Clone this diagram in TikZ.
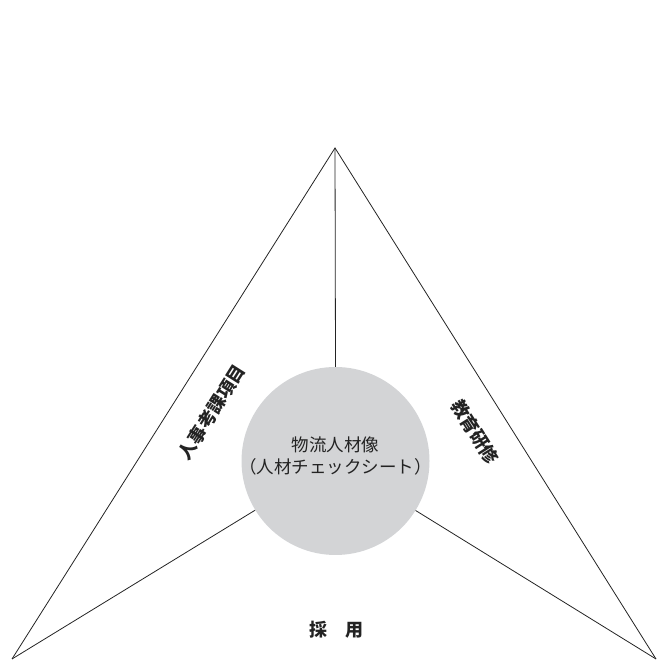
\documentclass[tikz,border=0pt]{standalone}
\usepackage{fontspec}
\newfontfamily\cjk{Noto Sans CJK JP}
\definecolor{circfill}{RGB}{211,212,214}
\definecolor{ink}{RGB}{35,35,35}
\begin{document}
\begin{tikzpicture}[x=1pt,y=1pt,
  edge/.style={draw=ink,line width=0.8pt},
  lab/.style={text=ink,font=\cjk\bfseries\fontsize{18}{20}\selectfont,inner sep=0pt}]
\useasboundingbox (0,0) rectangle (657,660);
\coordinate (apex) at (335,512);
\coordinate (bl) at (12,1);
\coordinate (br) at (656,1);
\node[circle,fill=circfill,minimum size=188pt,inner sep=0pt] (c) at (335.5,199) {};
\node[text=ink,align=center,inner sep=0pt,font=\cjk\fontsize{17.5}{22}\selectfont] (ct) at (335.5,204)
  {物流人材像\\（人材チェックシート）};
\draw[edge] (bl) -- (apex) -- (br);
\draw[edge] (apex) -- (c.north);
\draw[edge] (bl) -- (c);
\draw[edge] (br) -- (c);
\node[lab,rotate=57.7] (l1) at (212,248) {人事考課項目};
\node[lab,rotate=-57.7] (l2) at (475,228) {教育研修};
\node[lab] (l3) at (336,30) {採　用};
\end{tikzpicture}
\end{document}
